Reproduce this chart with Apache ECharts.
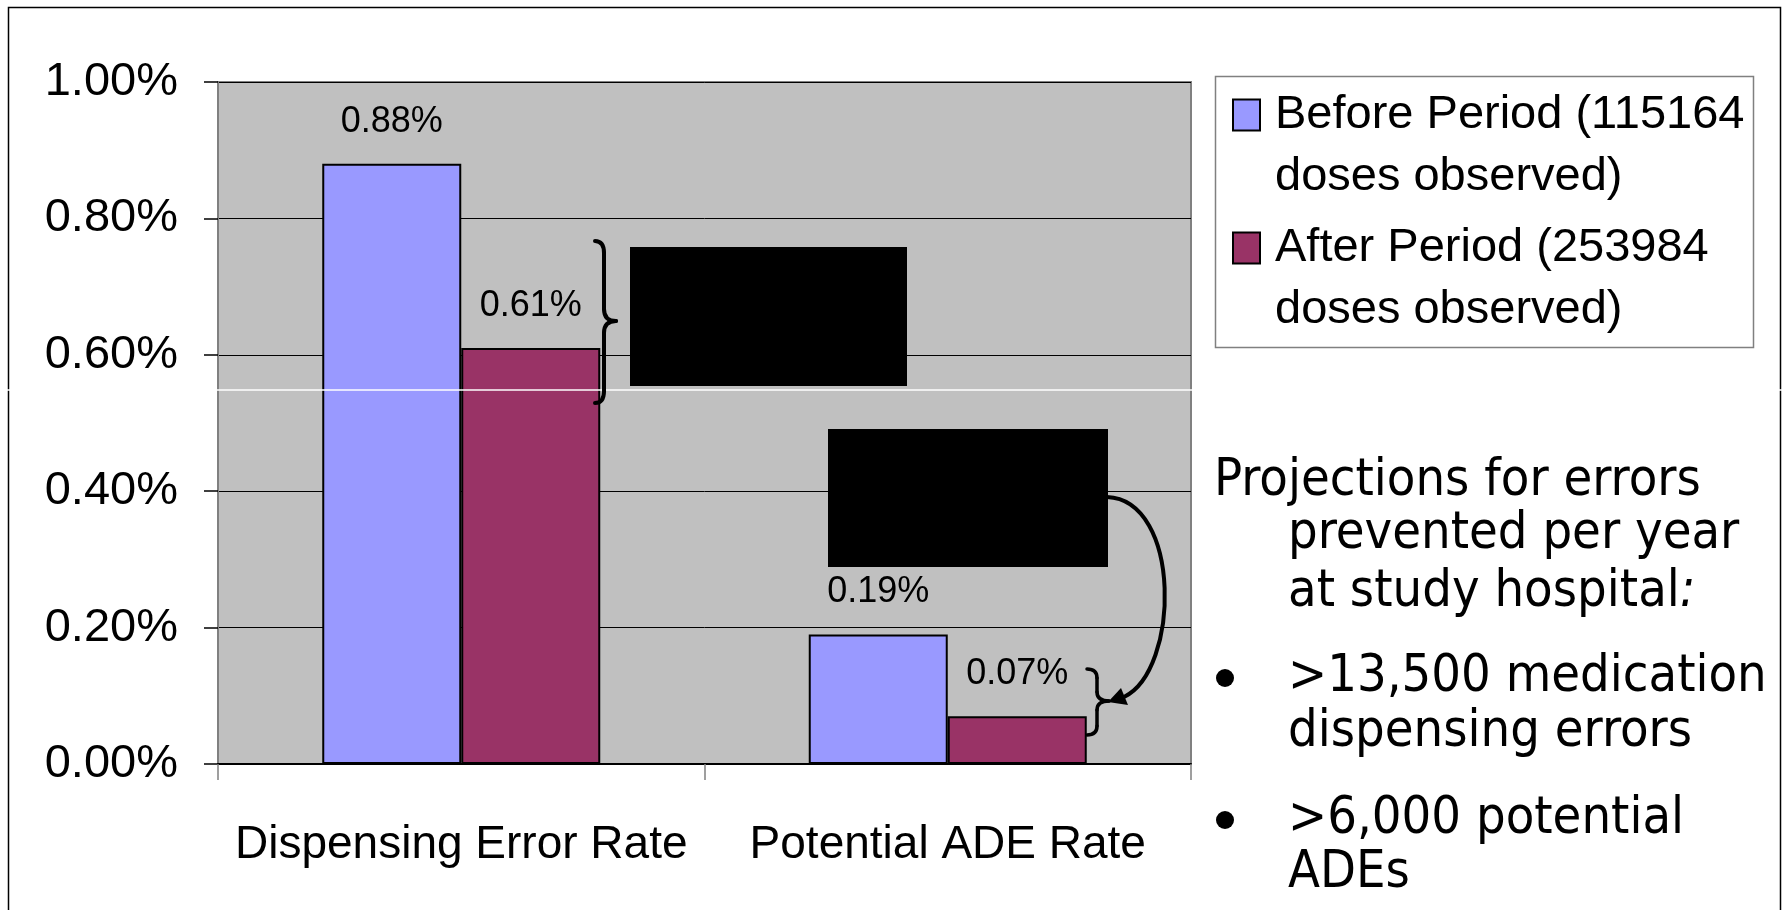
<!DOCTYPE html>
<html><head><meta charset="utf-8">
<script src="https://cdn.jsdelivr.net/npm/echarts@6/dist/echarts.min.js"></script>
<style>html,body{margin:0;padding:0;background:#fff}#c{width:1785px;height:910px}</style>
</head><body><div id="c"></div>
<script>
// ---- data ----
const categories = ['Dispensing Error Rate', 'Potential ADE Rate'];
const seriesNames = ['Before Period (115164\ndoses observed)', 'After Period (253984\ndoses observed)'];
const beforeValues = [0.88, 0.19];
const afterValues = [0.61, 0.07];
const yMin = 0, yMax = 1.0, yInterval = 0.2;
const sideTitle = ['Projections for errors', 'prevented per year', 'at study hospital'];
const bulletItems = [['>13,500 medication', 'dispensing errors'], ['>6,000 potential', 'ADEs']];

// ---- fonts ----
const mctx = document.createElement('canvas').getContext('2d');
function measure(t, f) { mctx.font = f; return mctx.measureText(t).width; }
function hasFont(name) {
  const t = 'abcdefghijklmnopqrstuvwxyz0123456789';
  return measure(t, '72px monospace') !== measure(t, '72px "' + name + '", monospace') &&
         measure(t, '72px serif') !== measure(t, '72px "' + name + '", serif');
}
const SANS = '"Liberation Sans", Arial, Helvetica, sans-serif';
const narrowOK = hasFont('Liberation Sans Narrow');
const CAT_FAM = narrowOK ? '"Liberation Sans Narrow", "Liberation Sans", Arial, sans-serif' : SANS;
const catSize = narrowOK ? Math.round(452 / measure(categories[0], '100px ' + CAT_FAM) * 100) : 46;
const condOK = hasFont('DejaVu Sans Condensed');
const SIDE_FAM = condOK ? '"DejaVu Sans Condensed", "DejaVu Sans", sans-serif' : '"DejaVu Sans", Verdana, sans-serif';
// fit side text size to the widths of three lines in the reference layout
const sideSize = Math.round(((494 / measure(sideTitle[0], '100px ' + SIDE_FAM)) +
  (446 / measure(sideTitle[1], '100px ' + SIDE_FAM)) +
  (470 / measure(bulletItems[0][0], '100px ' + SIDE_FAM))) / 3 * 100);
// the reference glyphs are taller than wide; stretch vertically to cap height ~38px
const sideScaleY = Math.min(1.2, Math.max(1, 38 / (0.729 * sideSize)));

const chart = echarts.init(document.getElementById('c'), null, {renderer: 'canvas'});
const pct = v => v.toFixed(2) + '%';

// right curly brace built from quadratic curves and lines
function brace(xl, xs, xt, y0, y1, ym, r, w) {
  const st = {fill: 'none', stroke: '#000', lineWidth: w, lineCap: 'round'};
  const q = (x1, y1, cx, cy, x2, y2) => ({type: 'bezierCurve', z: 100, silent: true,
    shape: {x1: x1, y1: y1, x2: x2, y2: y2, cpx1: cx, cpy1: cy}, style: st});
  const l = (x1, y1, x2, y2) => ({type: 'line', z: 100, silent: true,
    shape: {x1: x1, y1: y1, x2: x2, y2: y2}, style: st});
  return [
    q(xl, y0, xs, y0, xs, y0 + r),
    l(xs, y0 + r, xs, ym - r),
    q(xs, ym - r, xs, ym, xt, ym),
    q(xt, ym, xs, ym, xs, ym + r),
    l(xs, ym + r, xs, y1 - r),
    q(xs, y1 - r, xs, y1, xl, y1)
  ];
}

const sideText = (t, x, y) => ({
  type: 'text', x: x, y: y, z: 100, silent: true, scaleY: sideScaleY,
  style: {text: t, fontSize: sideSize, fontFamily: SIDE_FAM, fill: '#000',
    align: 'left', verticalAlign: 'middle'}
});

const elements = [
  {type: 'rect', z: 0, silent: true, shape: {x: 8.5, y: 7.5, width: 1772, height: 1000},
    style: {fill: 'none', stroke: '#000', lineWidth: 1.5}},
  {type: 'line', z: 50, silent: true, shape: {x1: 0, y1: 390, x2: 1785, y2: 390},
    style: {stroke: '#fff', lineWidth: 1.5}},
  {type: 'rect', z: 100, silent: true, shape: {x: 630, y: 247, width: 277, height: 139}, style: {fill: '#000'}},
  {type: 'rect', z: 100, silent: true, shape: {x: 828, y: 429, width: 280, height: 138}, style: {fill: '#000'}},
  {type: 'bezierCurve', z: 100, silent: true,
    shape: {x1: 1107, y1: 497, cpx1: 1182, cpy1: 500, cpx2: 1180, cpy2: 670, x2: 1124, y2: 697},
    style: {fill: 'none', stroke: '#000', lineWidth: 4}},
  {type: 'polygon', z: 100, silent: true, shape: {points: [[1108, 702], [1121, 688], [1128, 705]]},
    style: {fill: '#000'}},
  {type: 'rect', z: 10, silent: true, shape: {x: 1215.5, y: 76.5, width: 538, height: 271},
    style: {fill: 'none', stroke: '#808080', lineWidth: 1.5}},
  sideText(sideTitle[0], 1214, 481),
  sideText(sideTitle[1], 1288, 534),
  {type: 'text', x: 1288, y: 592, z: 100, silent: true, scaleY: sideScaleY, style: {
    text: '{a|' + sideTitle[2] + '}{b|:}', fill: '#000', align: 'left', verticalAlign: 'middle',
    fontSize: sideSize, fontFamily: SIDE_FAM,
    rich: {a: {fontSize: sideSize, fontFamily: SIDE_FAM, fill: '#000'},
           b: {fontSize: sideSize, fontFamily: SIDE_FAM, fontStyle: 'italic', fill: '#000'}}}},
  {type: 'circle', z: 100, silent: true, shape: {cx: 1225, cy: 678, r: 9}, style: {fill: '#000'}},
  sideText(bulletItems[0][0], 1288, 677),
  sideText(bulletItems[0][1], 1288, 732),
  {type: 'circle', z: 100, silent: true, shape: {cx: 1225, cy: 820, r: 9}, style: {fill: '#000'}},
  sideText(bulletItems[1][0], 1288, 819),
  sideText(bulletItems[1][1], 1288, 873)
].concat(brace(595, 604, 616, 241, 403, 321, 12, 4))
 .concat(brace(1087, 1097, 1109, 669, 735, 701, 9, 3.5));

const option = {
  animation: false,
  backgroundColor: '#fff',
  grid: {left: 218, top: 82, width: 973, height: 682, show: true, backgroundColor: '#C0C0C0',
    borderColor: '#808080', borderWidth: 2, containLabel: false},
  legend: {
    orient: 'vertical', left: 1232, top: 22, padding: 0, itemGap: -53,
    itemWidth: 27, itemHeight: 31, icon: 'rect',
    itemStyle: {borderColor: '#000', borderWidth: 2},
    formatter: name => '\n' + name,
    textStyle: {fontSize: 47, fontFamily: SANS, color: '#000', lineHeight: 62, padding: [0, 0, 0, 10]},
    selectedMode: false
  },
  xAxis: {
    type: 'category', data: categories,
    axisLine: {show: true, lineStyle: {color: '#000', width: 2}},
    axisTick: {show: true, length: 16, lineStyle: {color: '#808080', width: 1.5}},
    axisLabel: {fontSize: catSize, fontFamily: CAT_FAM, color: '#000', margin: 58, lineHeight: catSize, interval: 0},
    splitLine: {show: false}
  },
  yAxis: {
    type: 'value', min: yMin, max: yMax, interval: yInterval,
    axisLine: {show: true, lineStyle: {color: '#808080', width: 2}},
    axisTick: {show: true, length: 14, lineStyle: {color: '#000', width: 1.5}},
    axisLabel: {formatter: pct, fontSize: 47, fontFamily: SANS, color: '#000', margin: 40},
    splitLine: {show: true, lineStyle: {color: '#000', width: 1}}
  },
  series: [
    {type: 'bar', name: seriesNames[0], data: beforeValues, barWidth: 139, barGap: '0%',
      itemStyle: {color: '#9999FF', borderColor: '#000', borderWidth: 2},
      label: {show: true, position: 'top', distance: 24, formatter: p => pct(p.value),
        fontSize: 36, lineHeight: 36, fontFamily: SANS, color: '#000'}},
    {type: 'bar', name: seriesNames[1], data: afterValues, barWidth: 139, barGap: '0%',
      itemStyle: {color: '#993366', borderColor: '#000', borderWidth: 2},
      label: {show: true, position: 'top', distance: 24, formatter: p => pct(p.value),
        fontSize: 36, lineHeight: 36, fontFamily: SANS, color: '#000'}}
  ],
  graphic: {elements: elements}
};
chart.setOption(option);
</script>
</body></html>
